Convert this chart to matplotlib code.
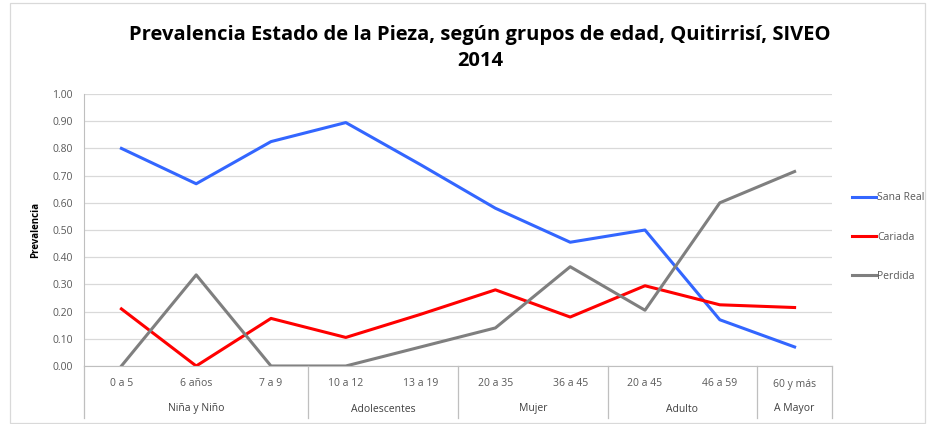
import numpy as np
import matplotlib.pyplot as plt
from matplotlib.patches import Rectangle
from matplotlib.lines import Line2D

plt.rcParams['font.family'] = ['Open Sans', 'DejaVu Sans']

categorias = ['0 a 5', '6 años', '7 a 9', '10 a 12', '13 a 19', '20 a 35', '36 a 45',
              '20 a 45', '46 a 59', '60 y más']
grupos = ['Niña y Niño', 'Adolescentes', 'Mujer', 'Adulto', 'A Mayor']
grupo_n = [3, 2, 2, 2, 1]

sana_real = [0.80, 0.67, 0.825, 0.895, 0.74, 0.58, 0.455, 0.50, 0.17, 0.07]
cariada = [0.21, 0.00, 0.175, 0.105, 0.19, 0.28, 0.18, 0.295, 0.225, 0.215]
perdida = [0.00, 0.335, 0.00, 0.00, 0.07, 0.14, 0.365, 0.205, 0.60, 0.715]

fig = plt.figure(figsize=(9.32, 4.24), dpi=100)
ax = fig.add_axes([84/932, 1-366/424, 748/932, 272/424])

x = np.arange(len(categorias))
ax.plot(x, sana_real, color='#3366ff', lw=2.2, label='Sana Real')
ax.plot(x, cariada, color='#ff0000', lw=2.2, label='Cariada')
ax.plot(x, perdida, color='#7f7f7f', lw=2.2, label='Perdida')

ax.set_xlim(-0.5, len(categorias) - 0.5)
ax.set_ylim(0, 1)
ax.set_yticks(np.arange(0, 1.01, 0.1))
ax.set_yticklabels(['%.2f' % v for v in np.arange(0, 1.01, 0.1)], fontsize=7.5, color='#595959')
ax.tick_params(axis='y', length=0, pad=8)
ax.grid(axis='y', color='#d9d9d9', lw=0.9)
ax.set_axisbelow(True)
for s in ['top', 'right']:
    ax.spines[s].set_visible(False)
for s in ['left', 'bottom']:
    ax.spines[s].set_color('#bfbfbf')
ax.set_xticks(x)
ax.set_xticklabels(categorias, fontsize=7.5, color='#595959')
ax.tick_params(axis='x', length=0, pad=9)

# group labels and separators
trans = ax.get_xaxis_transform()
bordes = np.concatenate([[0], np.cumsum(grupo_n)]) - 0.5
for b in bordes:
    ax.add_line(Line2D([b, b], [0, -52/272], transform=trans, color='#bfbfbf',
                       lw=0.9, clip_on=False))
for i, g in enumerate(grupos):
    cx = (bordes[i] + bordes[i+1]) / 2
    ax.text(cx, -43/272, g, transform=trans, ha='center', va='center',
            fontsize=7.5, color='#404040')

ax.set_ylabel('Prevalencia', fontsize=7, fontweight='bold', labelpad=8)

fig.suptitle('Prevalencia Estado de la Pieza, según grupos de edad, Quitirrisí, SIVEO\n2014',
             x=0.515, y=0.94, fontsize=14.5, fontweight='bold', linespacing=1.35)

leg = fig.legend(loc='upper left', bbox_to_anchor=(843/932, 1-183/424), frameon=False,
                 fontsize=7.5, handlelength=2.3, handletextpad=0.1, labelspacing=2.7,
                 labelcolor='#595959')

fig.add_artist(Rectangle((10/932, 1/424), 915/932, 420/424, transform=fig.transFigure,
                         fill=False, edgecolor='#d9d9d9', lw=0.9))

fig.savefig('out.png', dpi=100)
